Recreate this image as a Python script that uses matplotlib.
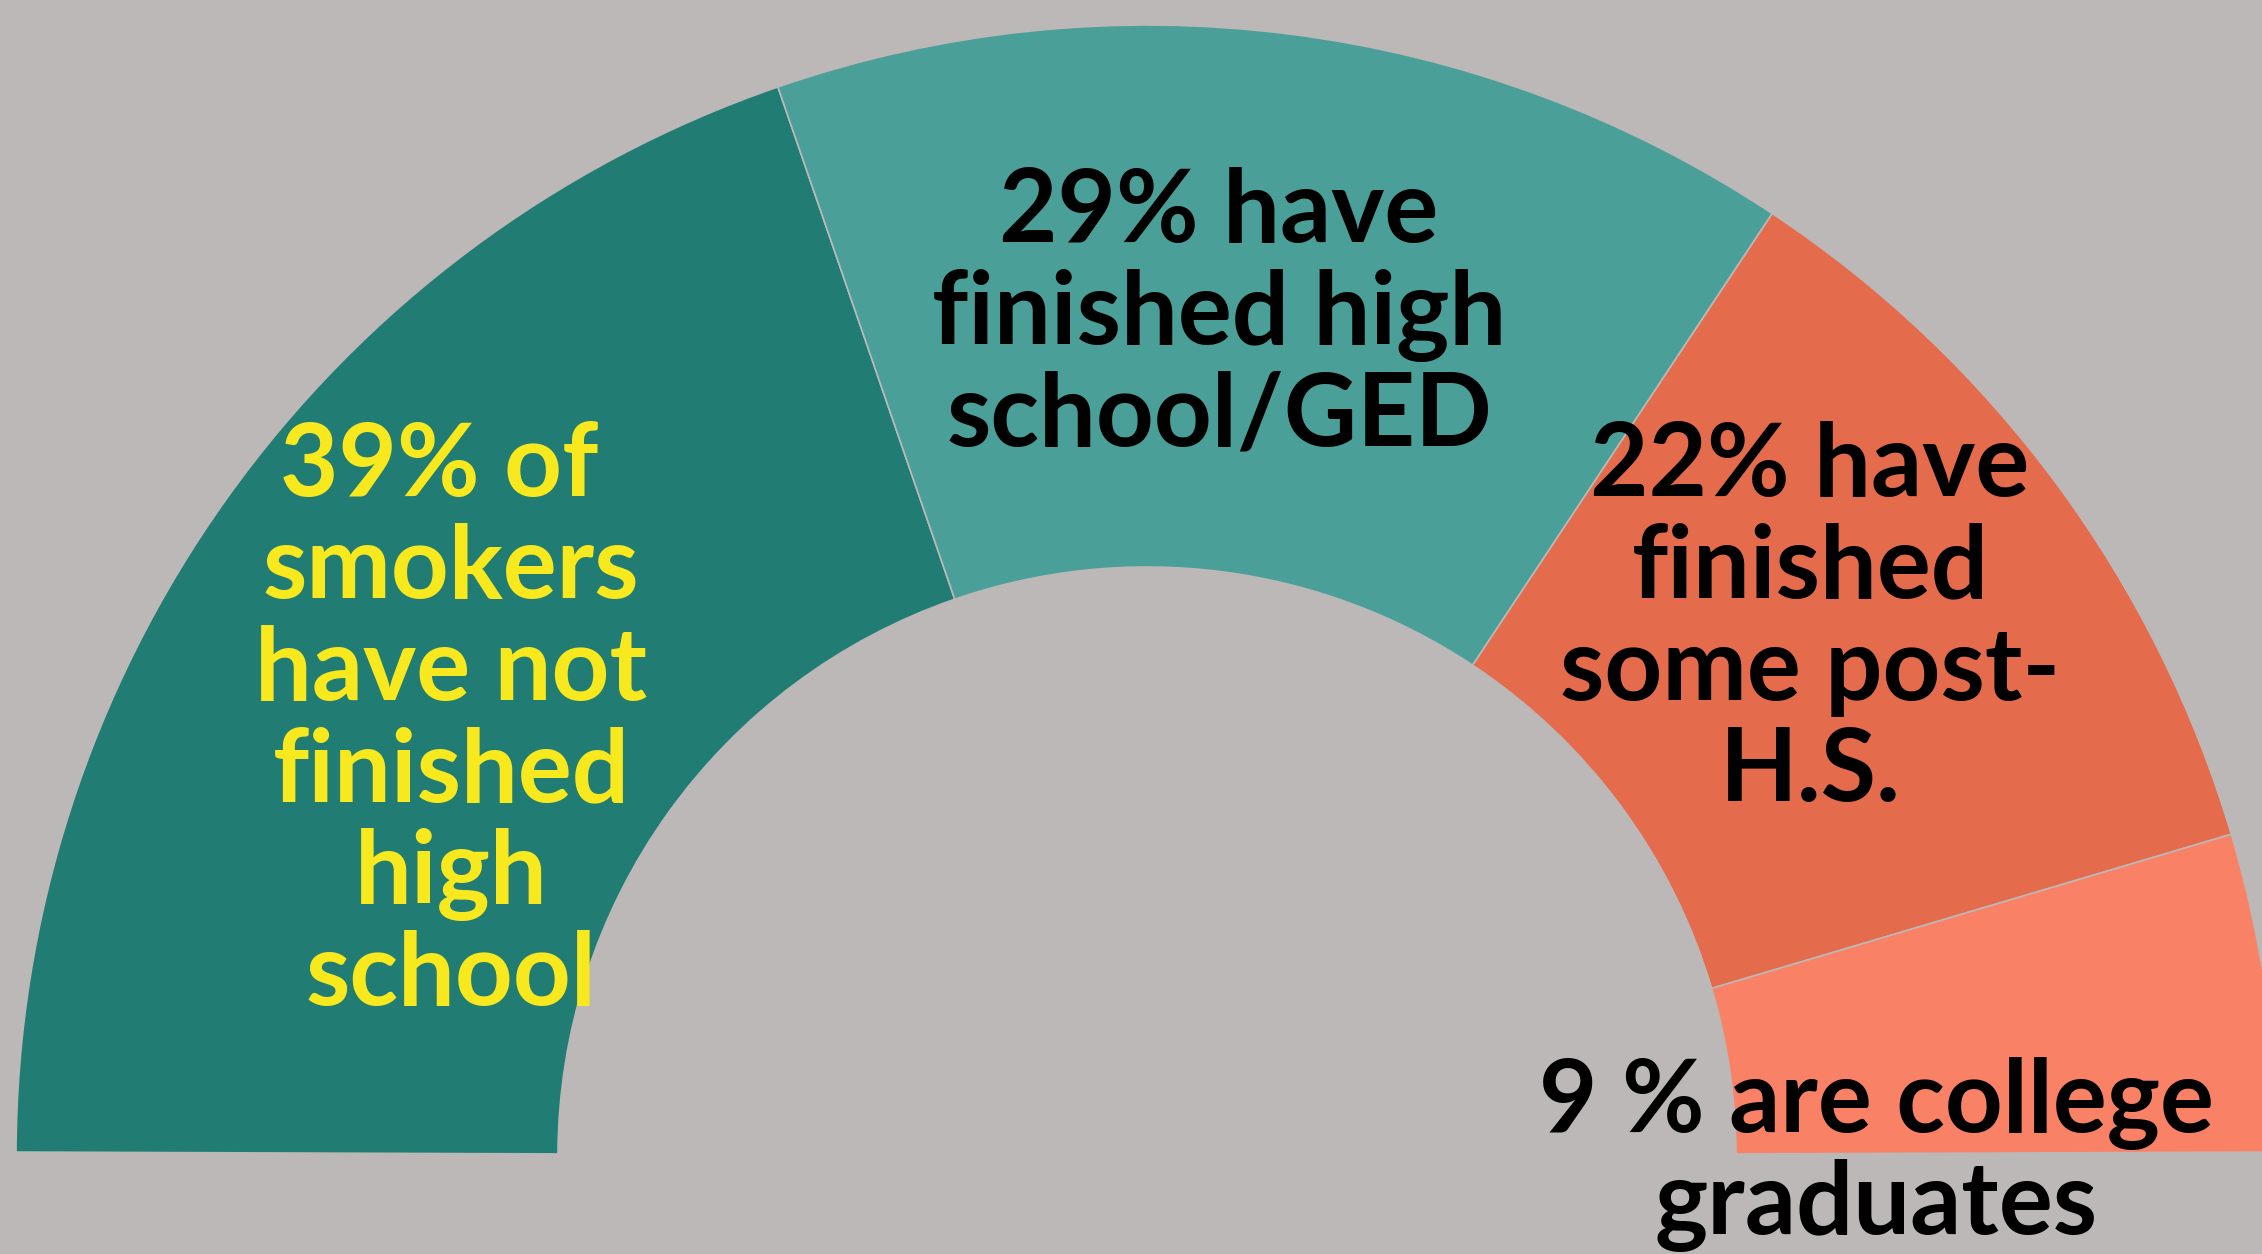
import matplotlib
matplotlib.use('Agg')
import matplotlib.pyplot as plt

# Education level of smokers (percent)
shares = [39, 29, 22, 9]
labels = ['39% of \nsmokers\nhave not\nfinished\nhigh\nschool',
          '29% have\nfinished high\nschool/GED',
          '22% have\nfinished\nsome post-\nH.S.',
          '9 % are college\ngraduates']
colors = ['#217d73', '#4aa098', '#e56b4d', '#f98165']
text_colors = ['#f8e81e', 'black', 'black', 'black']

bg = '#bcb8b7'
W, H = 2262, 1254

fig = plt.figure(figsize=(W / 100, H / 100), dpi=100, facecolor=bg)
ax = fig.add_axes([0, 0, 1, 1])
ax.set_facecolor(bg)

# half donut: pad the pie with an invisible wedge so the visible part spans ~180 deg
span = 179.6
pad = sum(shares) * (360 - span) / span
cx, cy = 1147, H - 1156
R, r = 1131, 589
wedges, _ = ax.pie(shares + [pad], colors=colors + ['none'], startangle=179.8,
                   counterclock=False, radius=R, center=(cx, cy), frame=False,
                   wedgeprops=dict(width=R - r, edgecolor=bg, linewidth=1.2))
wedges[-1].set_edgecolor('none')

ax.set_xlim(0, W)
ax.set_ylim(0, H)
ax.set_aspect('equal')
ax.axis('off')

# label placement (x centre, first baseline from top)
label_x = [451, 1219, 1810, 1876]
label_top = [496, 242, 496, 1132]
step = 101.8
for txt, x, y0, c in zip(labels, label_x, label_top, text_colors):
    for i, line in enumerate(txt.split('\n')):
        ax.text(x, H - (y0 + i * step), line, ha='center', va='baseline',
                fontsize=72.6, fontweight='bold', family='Lato', color=c, zorder=5)

fig.savefig('out.png', dpi=100, facecolor=bg)
